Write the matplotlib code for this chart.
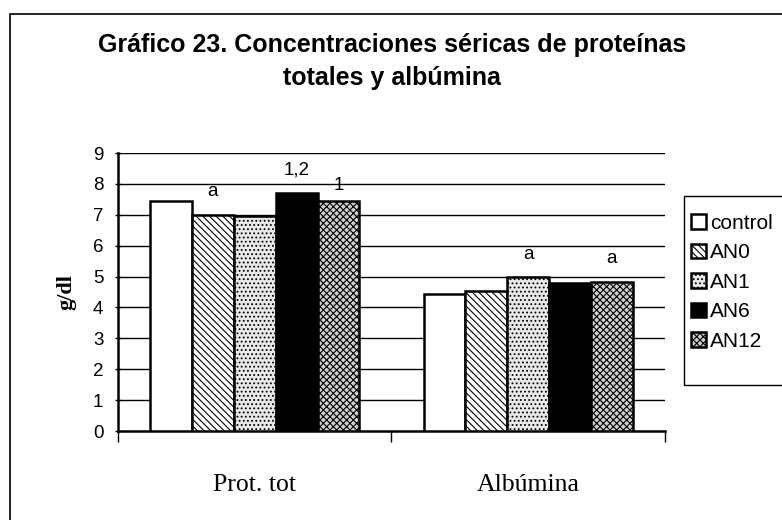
#! /usr/bin/env python3

import matplotlib
matplotlib.use('Agg')
import matplotlib.pyplot as plt
from matplotlib.patches import Rectangle
import numpy as np

categories = ['Prot. tot', 'Albúmina']
groups = ['control', 'AN0', 'AN1', 'AN6', 'AN12']
values = {
    'control': [7.45, 4.43],
    'AN0': [7.0, 4.53],
    'AN1': [6.95, 4.97],
    'AN6': [7.72, 4.78],
    'AN12': [7.45, 4.83],
}
# significance marks: (category index, group, text)
marks = [(0, 'AN0', 'a'), (0, 'AN6', '1,2'), (0, 'AN12', '1'),
         (1, 'AN1', 'a'), (1, 'AN12', 'a')]
yticks = list(range(0, 10))

styles = {
    'control': dict(facecolor='white', hatch=None),
    'AN0': dict(facecolor='white', hatch='\\\\\\\\\\'),
    'AN1': dict(facecolor='#e8e8e8', hatch='....'),
    'AN6': dict(facecolor='black', hatch=None),
    'AN12': dict(facecolor='#d0d0d0', hatch='xxxxx'),
}

plt.rcParams['hatch.linewidth'] = 0.8
sans = 'Liberation Sans'
serif = 'Liberation Serif'

fig = plt.figure(figsize=(7.82, 5.2), dpi=100)
ax = fig.add_axes([118 / 782, 1 - 431 / 520, 547 / 782, 278 / 520])

w = 0.153
x = np.arange(len(categories))
handles = []
for i, g in enumerate(groups):
    pos = x + (i - 2) * w
    b = ax.bar(pos, values[g], w, edgecolor='black', linewidth=1.8,
               zorder=3, label=g, **styles[g])
    handles.append(b)

for ci, g, t in marks:
    i = groups.index(g)
    off = 0.35 if t == '1' else 0.6
    ax.text(x[ci] + (i - 2) * w, values[g][ci] + off, t, ha='center',
            va='baseline', fontsize=13.5, family=sans)

ax.set_xlim(-0.5, 1.5)
ax.set_ylim(0, 9)
ax.set_yticks(yticks)
ax.set_yticklabels([str(v) for v in yticks], fontsize=13.5, family=sans)
for v in yticks[1:]:
    ax.axhline(v, color='black', linewidth=1.0, zorder=1)
ax.set_xticks([-0.5, 0.5, 1.5])
ax.set_xticklabels([])
ax.tick_params(axis='x', length=8, width=1, direction='out')
ax.tick_params(axis='y', length=5, width=1, direction='inout', pad=8)
for c, xc in zip(categories, x):
    ax.text(xc, -1.75, c, ha='center', va='center', fontsize=18.5,
            family=serif)
ax.spines['top'].set_visible(False)
ax.spines['right'].set_visible(False)
ax.spines['left'].set_linewidth(1.8)
ax.spines['bottom'].set_linewidth(1.8)
ax.set_ylabel('g/dl', fontsize=16, family=serif, fontweight='bold',
              labelpad=12)

fig.text(392 / 782, 1 - 45 / 520,
         'Gráfico 23. Concentraciones séricas de proteínas',
         ha='center', va='center', fontsize=18, fontweight='bold',
         family=sans)
fig.text(392 / 782, 1 - 78 / 520, 'totales y albúmina', ha='center',
         va='center', fontsize=18, fontweight='bold', family=sans)

# legend box drawn separately so the padding can differ per side
fig.patches.append(Rectangle((684 / 782, 1 - 385 / 520), 200 / 782,
                             189 / 520, transform=fig.transFigure,
                             fill=False, edgecolor='black', linewidth=1))
fig.legend(handles=handles, labels=groups, loc='upper left',
           bbox_to_anchor=(691 / 782, 1 - 214 / 520),
           prop={'family': sans, 'size': 15}, frameon=False,
           handlelength=0.7, handleheight=0.7, handletextpad=0.2,
           labelspacing=0.5, borderpad=0, borderaxespad=0)

fig.patches.append(Rectangle((10 / 782, -0.05), 1.0, 1 - 14 / 520 + 0.05,
                             transform=fig.transFigure, fill=False,
                             edgecolor='black', linewidth=1.2))

fig.savefig('out.png', dpi=100)
